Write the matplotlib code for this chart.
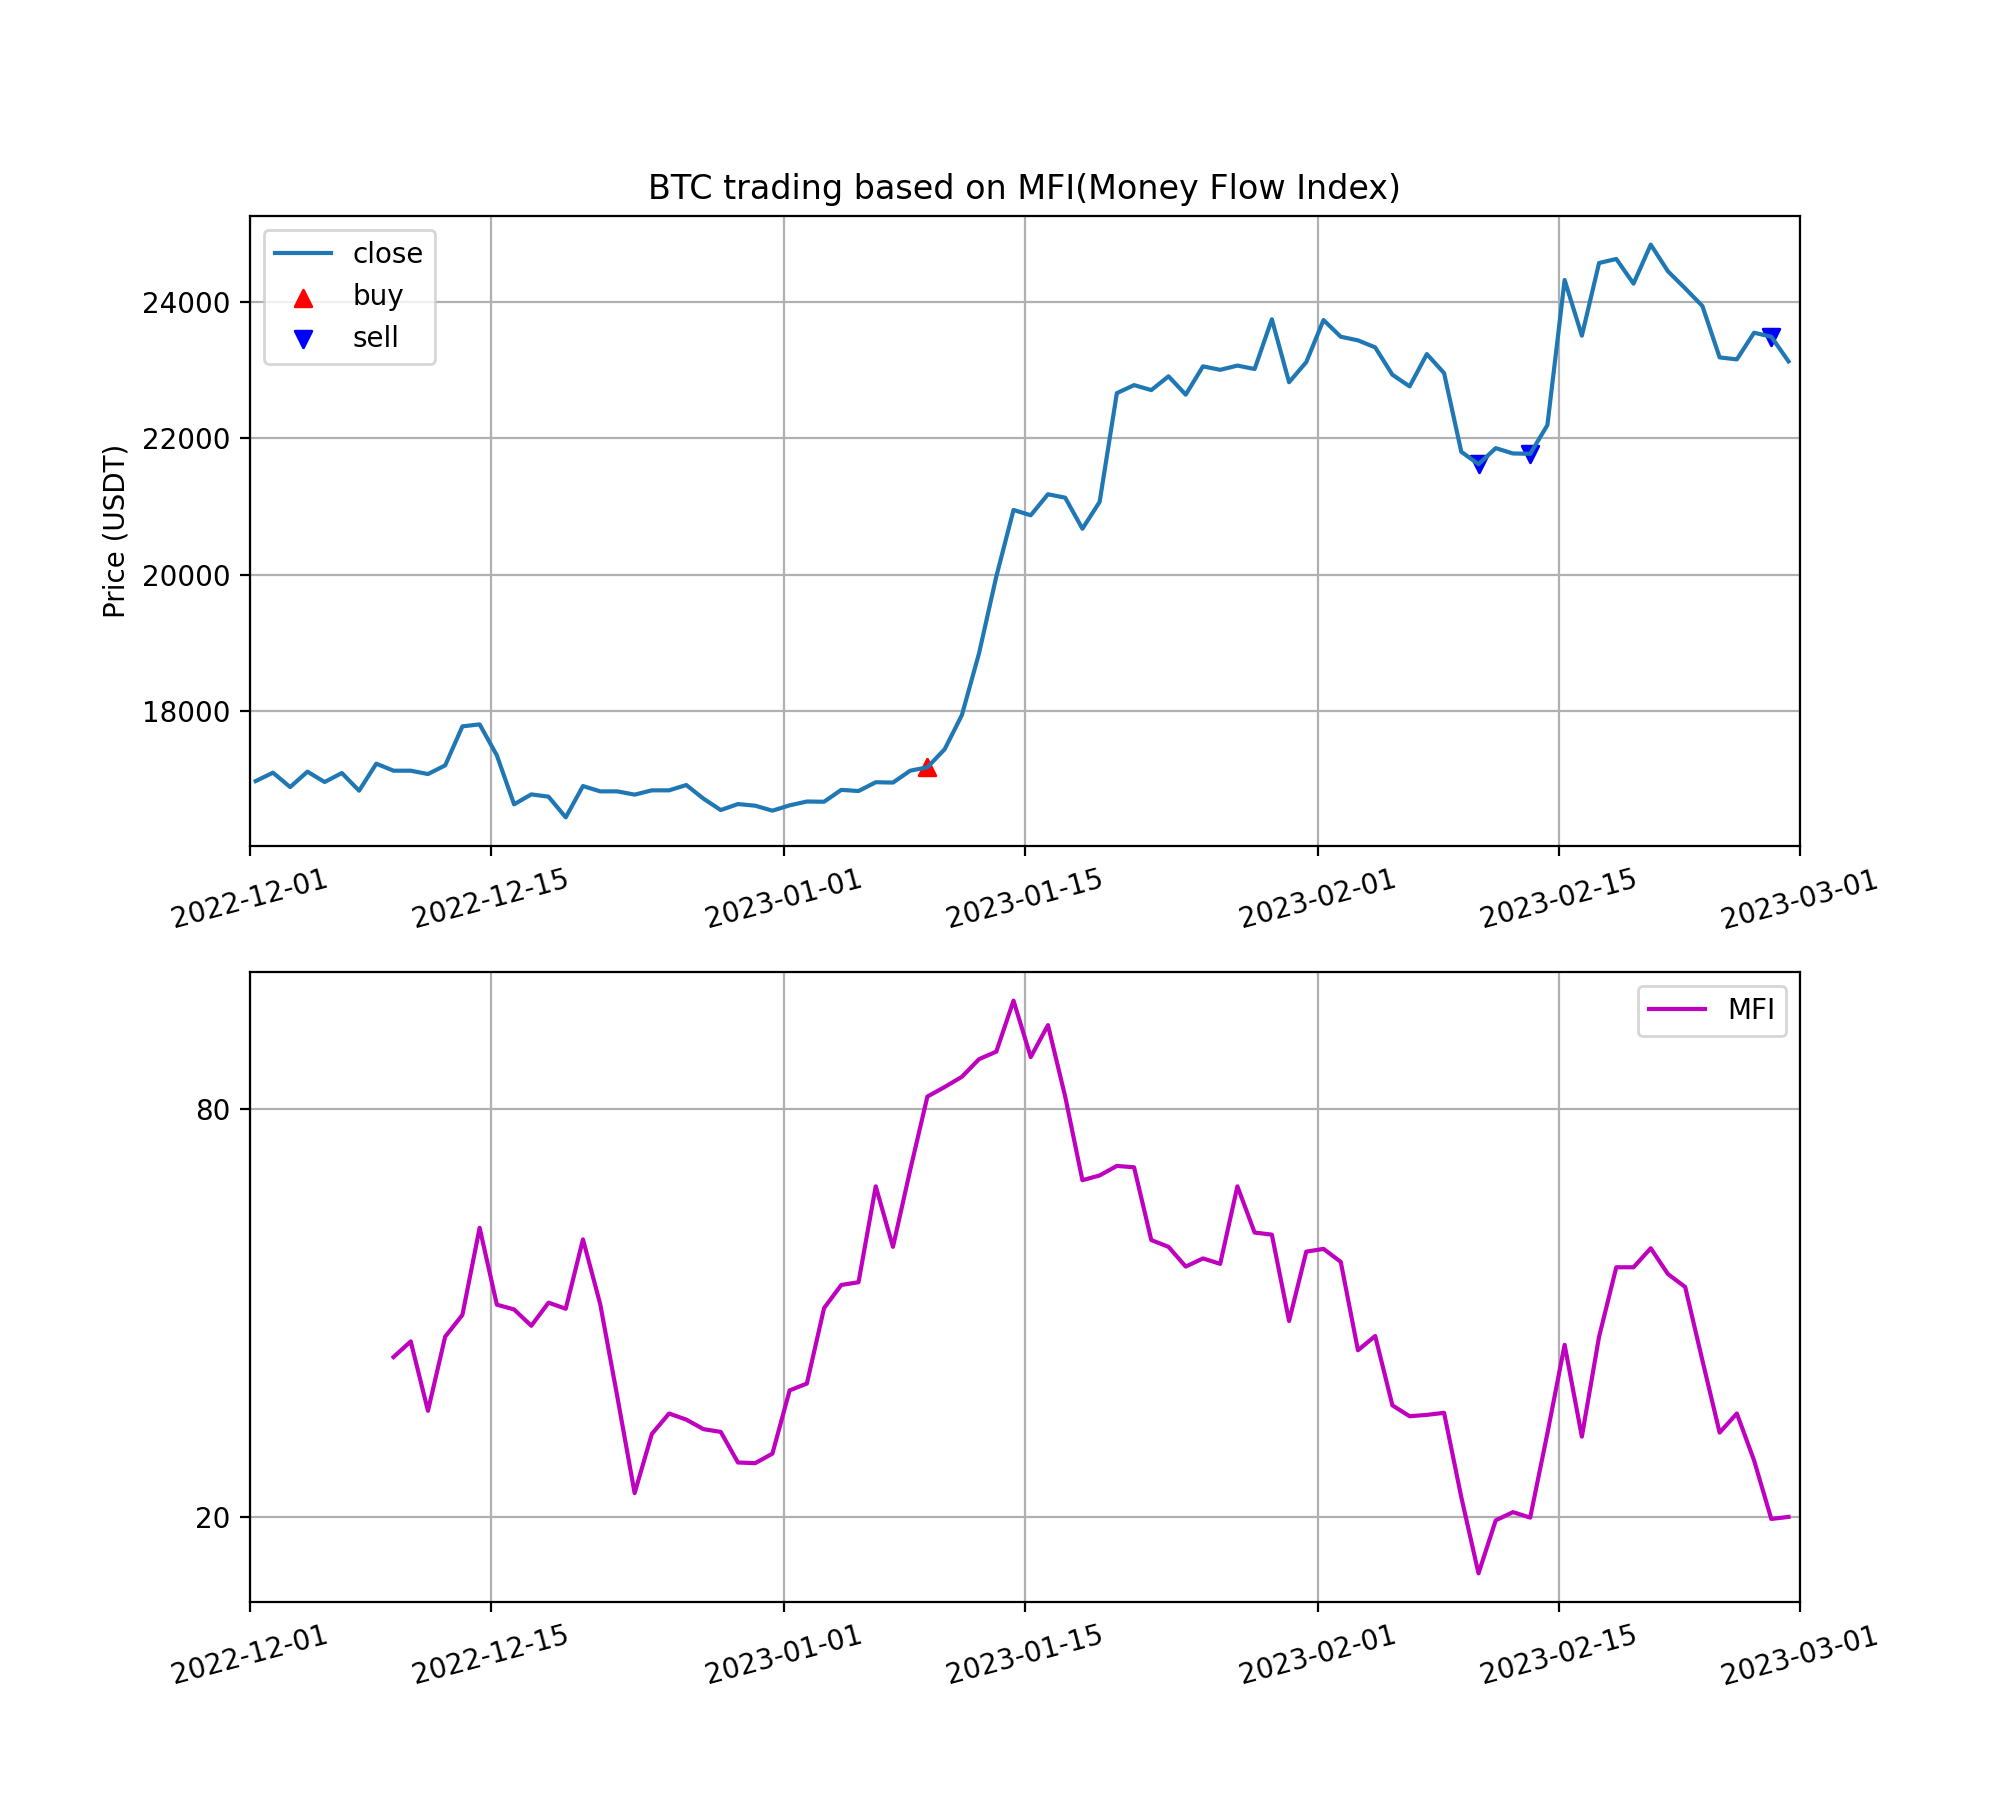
import numpy as np
import pandas as pd
import matplotlib
matplotlib.use("Agg")
import matplotlib.pyplot as plt
import matplotlib.dates as mdates

# daily candles, stamped 08:00 (UTC+8)
dates = pd.date_range("2022-12-01 08:00", periods=90, freq="D")

close = [16978, 17101, 16890, 17116, 16964, 17096, 16837, 17233, 17130, 17130,
         17081, 17208, 17780, 17809, 17355, 16637, 16783, 16749, 16446, 16905,
         16827, 16827, 16779, 16842, 16842, 16920, 16720, 16553, 16641, 16617,
         16544, 16622, 16678, 16675, 16849, 16832, 16961, 16956, 17130, 17180,
         17444, 17944, 18853, 19976, 20952, 20874, 21182, 21132, 20677, 21070,
         22664, 22782, 22709, 22911, 22642, 23057, 23006, 23068, 23018, 23747,
         22824, 23120, 23736, 23491, 23438, 23335, 22934, 22763, 23237, 22958,
         21804, 21623, 21858, 21780, 21775, 22196, 24323, 23506, 24572, 24631,
         24269, 24841, 24450, 24200, 23941, 23188, 23159, 23550, 23491, 23130]

mfi = [np.nan] * 8 + [
    43.5, 45.8, 35.6, 46.5, 49.7, 62.5, 51.2, 50.5, 48.1, 51.5,
    50.6, 60.8, 51.3, 37.6, 23.5, 32.2, 35.2, 34.3, 32.9, 32.5,
    28.0, 27.9, 29.3, 38.6, 39.6, 50.7, 54.1, 54.5, 68.6, 59.7,
    71.0, 81.8, 83.2, 84.7, 87.3, 88.4, 95.9, 87.6, 92.3, 81.8,
    69.5, 70.2, 71.6, 71.4, 60.7, 59.7, 56.8, 58.0, 57.2, 68.6,
    61.8, 61.5, 48.8, 59.0, 59.4, 57.5, 44.5, 46.6, 36.4, 34.8,
    35.0, 35.3, 22.9, 11.7, 19.5, 20.7, 19.9, 32.3, 45.3, 31.8,
    46.5, 56.7, 56.7, 59.5, 55.7, 53.8, 43.0, 32.4, 35.2, 28.3,
    19.7, 20.0]

buy_idx = [39]
sell_idx = [71, 74, 88]

xmin = pd.Timestamp("2022-12-01")
xmax = pd.Timestamp("2023-03-01")
tick_dates = pd.to_datetime(["2022-12-01", "2022-12-15", "2023-01-01", "2023-01-15",
                             "2023-02-01", "2023-02-15", "2023-03-01"])

fig, (ax1, ax2) = plt.subplots(2, 1, figsize=(10, 9), dpi=200)

ax1.plot(dates, close, label="close")
ax1.scatter(dates[buy_idx], [close[i] for i in buy_idx], marker="^", color="red", label="buy")
ax1.scatter(dates[sell_idx], [close[i] for i in sell_idx], marker="v", color="blue", label="sell")
ax1.set_title("BTC trading based on MFI(Money Flow Index)")
ax1.set_ylabel("Price (USDT)")
ax1.set_yticks([18000, 20000, 22000, 24000])
ax1.legend(loc="upper left")
ax1.grid(True)

ax2.plot(dates, mfi, color="m", label="MFI")
ax2.set_yticks([20, 80])
ax2.legend(loc="upper right")
ax2.grid(True)

for ax in (ax1, ax2):
    ax.set_xlim(xmin, xmax)
    ax.set_xticks(tick_dates)
    ax.xaxis.set_major_formatter(mdates.DateFormatter("%Y-%m-%d"))
    plt.setp(ax.get_xticklabels(), rotation=15)

plt.savefig("out.png", dpi=200)
